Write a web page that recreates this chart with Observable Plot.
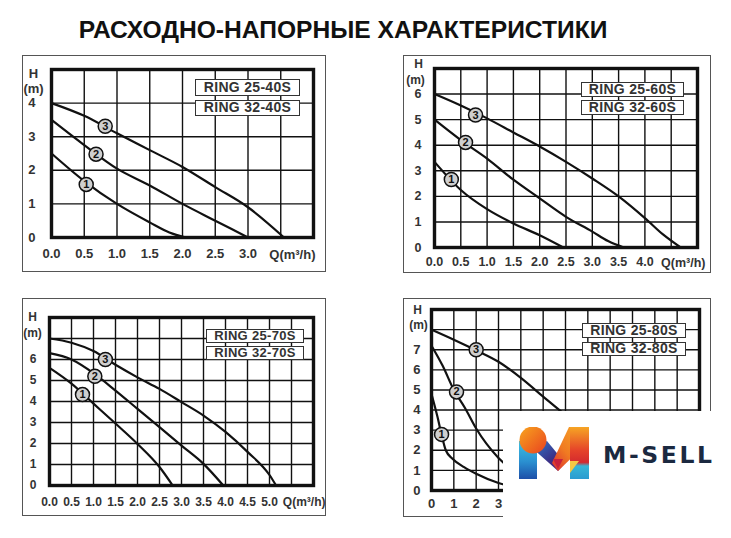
<!DOCTYPE html>
<html><head><meta charset="utf-8">
<script src="https://cdn.jsdelivr.net/npm/d3@7"></script>
<script src="https://cdn.jsdelivr.net/npm/@observablehq/plot@0.6"></script>
<style>
body{margin:0;background:#fff;}
#root{position:relative;width:731px;height:538px;overflow:hidden;background:#fff;font-family:"Liberation Sans",Arial,sans-serif;}
.outer{position:absolute;border:1.5px solid #555;box-sizing:border-box;}
.leg{position:absolute;box-sizing:border-box;border:1.5px solid #333;background:#fff;font-weight:bold;color:#333;text-align:center;white-space:nowrap;letter-spacing:0.3px;}
.chart{position:absolute;}
#title{position:absolute;left:0;width:686px;text-align:center;font-weight:bold;color:#111;white-space:nowrap;}
</style></head><body><div id="root"></div>
<script>
// ---------- DATA ----------
const title = "РАСХОДНО-НАПОРНЫЕ ХАРАКТЕРИСТИКИ";
const qLabel = "Q(m³/h)";
const hLabel = "H";
const mLabel = "(m)";
const brand = "M-SELL";

// Panel A: RING 25-40S / 32-40S
const modelsA = ["RING 25-40S", "RING 32-40S"];
const xTicksA = [0, 0.5, 1, 1.5, 2, 2.5, 3];
const yTicksA = [0, 1, 2, 3, 4];
const curveA1 = [[0,2.5],[0.5,1.68],[1,1.0],[1.5,0.45],[1.8,0.15],[2.05,0]];
const curveA2 = [[0,3.5],[0.5,2.75],[1,2.05],[1.5,1.55],[2,1.0],[2.5,0.5],[3,0]];
const curveA3 = [[0,4.0],[0.5,3.62],[1,3.1],[1.5,2.6],[2,2.1],[2.5,1.5],[3,0.9],[3.55,0]];
const badgesA = [[0.53,1.58],[0.68,2.48],[0.82,3.31]];

// Panel B: RING 25-60S / 32-60S
const modelsB = ["RING 25-60S", "RING 32-60S"];
const xTicksB = [0, 0.5, 1, 1.5, 2, 2.5, 3, 3.5, 4];
const yTicksB = [0, 1, 2, 3, 4, 5, 6];
const curveB1 = [[0,3.35],[0.5,2.25],[1,1.5],[1.5,0.94],[2,0.48],[2.45,0]];
const curveB2 = [[0,5],[0.5,4.2],[1,3.48],[1.5,2.65],[2,1.92],[2.5,1.2],[3,0.62],[3.3,0.25],[3.6,0]];
const curveB3 = [[0,6],[0.5,5.55],[1,5.05],[1.5,4.5],[2,3.95],[2.5,3.35],[3,2.7],[3.5,2.0],[4,1.15],[4.35,0.5],[4.68,0]];
const badgesB = [[0.32,2.66],[0.59,4.11],[0.78,5.18]];

// Panel C: RING 25-70S / 32-70S
const modelsC = ["RING 25-70S", "RING 32-70S"];
const xTicksC = [0, 0.5, 1, 1.5, 2, 2.5, 3, 3.5, 4, 4.5, 5];
const yTicksC = [0, 1, 2, 3, 4, 5, 6];
const curveC1 = [[0,5.6],[0.5,4.85],[1,3.9],[1.5,2.95],[2,1.98],[2.5,0.88],[2.8,0]];
const curveC2 = [[0,6.3],[0.5,6.0],[1,5.35],[1.5,4.52],[2,3.65],[2.5,2.78],[3,1.9],[3.5,1.03],[3.95,0]];
const curveC3 = [[0,7.0],[0.5,6.8],[1,6.4],[1.5,5.75],[2,5.15],[2.5,4.6],[3,3.97],[3.5,3.33],[4,2.55],[4.5,1.6],[5,0.5],[5.15,0]];
const badgesC = [[0.75,4.33],[1.03,5.2],[1.27,6.0]];

// Panel D: RING 25-80S / 32-80S
const modelsD = ["RING 25-80S", "RING 32-80S"];
const xTicksD = [0, 1, 2, 3, 4, 5, 6, 7, 8, 9, 10, 11];
const yTicksD = [0, 1, 2, 3, 4, 5, 6, 7];
const curveD1 = [[0,4.8],[0.27,3.65],[0.45,2.77],[0.64,2.0],[0.94,1.58],[1.46,1.16],[2,0.83],[3,0.37],[4,0.1]];
const curveD2 = [[0,7.2],[0.5,6.2],[1,5.0],[1.5,4.1],[2,3.08],[3,1.62],[4,0.75],[5,0.25]];
const curveD3 = [[0,8.0],[1,7.5],[2,6.97],[3,6.4],[4,5.6],[5,4.67],[6,3.75],[7,2.8]];
const badgesD = [[0.45,2.79],[1.12,4.9],[2.0,7.0]];

// ---------- LAYOUT ----------
const root = document.getElementById("root");

function range(a, b, s) { const r = []; for (let v = a; v <= b + 1e-9; v += s) r.push(+v.toFixed(3)); return r; }

function panel(o) {
  const lines = o.curves.flatMap((c, i) => c.map(([q, h]) => ({q, h, k: i + 1})));
  const badges = o.badges.map(([q, h], i) => ({q, h, n: String(i + 1)}));
  const fs = o.fs;
  const marks = [
    Plot.gridX({ticks: range(o.xDomain[0], o.xDomain[1], o.xStep), stroke: "#111", strokeOpacity: 1, strokeWidth: 1.4}),
    Plot.gridY({ticks: range(o.yDomain[0], o.yDomain[1], 1), stroke: "#111", strokeOpacity: 1, strokeWidth: 1.4}),
    Plot.line(lines, {x: "q", y: "h", z: "k", curve: "monotone-x", stroke: "#111", strokeWidth: 2.2}),
    Plot.frame({stroke: "#111", strokeWidth: 3.4}),
    Plot.dot(badges, {x: "q", y: "h", r: 7, fill: "#cfcfcf", stroke: "#111", strokeWidth: 1.5}),
    Plot.text(badges, {x: "q", y: "h", text: "n", fontSize: 11, fontWeight: "bold", fill: "#111"}),
    Plot.axisX({ticks: o.xTicks, tickSize: 0, tickPadding: o.xp, tickFormat: o.xFmt, fontSize: fs, label: null}),
    Plot.axisY({ticks: o.yTicks, tickSize: 0, tickPadding: o.yp, tickFormat: d => String(d), fontSize: fs, label: null}),
    Plot.text([hLabel], {text: d => d, frameAnchor: "top-left", textAnchor: "middle", lineAnchor: "middle", dx: o.hPos[0], dy: o.hPos[1], fontSize: o.hfs, fill: "#333"}),
    Plot.text([mLabel], {text: d => d, frameAnchor: "top-left", textAnchor: "middle", lineAnchor: "middle", dx: o.mPos[0], dy: o.mPos[1], fontSize: o.hfs, fill: "#333"})
  ];
  if (o.qPos) marks.push(Plot.text([qLabel], {text: d => d, frameAnchor: "bottom-right", textAnchor: "end", lineAnchor: "middle", dx: o.qPos[0], dy: o.qPos[1], fontSize: fs, fill: "#333"}));
  const chart = Plot.plot({
    width: o.w, height: o.h,
    marginLeft: o.ml, marginRight: o.mr, marginTop: o.mt, marginBottom: o.mb,
    x: {domain: o.xDomain}, y: {domain: o.yDomain},
    style: {fontFamily: "Liberation Sans, Arial, sans-serif", fontWeight: "bold", color: "#333", background: "transparent", overflow: "visible"},
    marks
  });
  const box = document.createElement("div");
  box.className = "outer";
  Object.assign(box.style, {left: o.left + "px", top: o.top + "px", width: o.w + "px", height: o.h + "px"});
  root.appendChild(box);
  chart.classList.add("chart");
  chart.style.left = o.left + "px"; chart.style.top = o.top + "px";
  root.appendChild(chart);
  o.models.forEach((m, i) => {
    const d = document.createElement("div");
    d.className = "leg";
    const b = o.leg[i];
    Object.assign(d.style, {left: b[0] + "px", top: b[1] + "px", width: b[2] + "px", height: b[3] + "px", fontSize: o.lfs + "px", lineHeight: (b[3] - 3) + "px"});
    d.textContent = m;
    root.appendChild(d);
  });
}

const fmt1 = d => d.toFixed(1);

panel({left: 22, top: 55, w: 304, h: 217, ml: 29, mt: 14, mr: 13, mb: 35,
  xDomain: [0, 4], yDomain: [0, 5], xStep: 0.5, xTicks: xTicksA, yTicks: yTicksA, xFmt: fmt1,
  curves: [curveA1, curveA2, curveA3], badges: badgesA, models: modelsA,
  fs: 13, hfs: 13, xp: 11, yp: 16, hPos: [-18, 4], mPos: [-18, 19], qPos: [2, 17],
  leg: [[195, 79, 105, 17], [195, 100, 105, 16]], lfs: 14});

panel({left: 403, top: 55, w: 308, h: 218, ml: 31, mt: 13, mr: 14, mb: 26,
  xDomain: [0, 5], yDomain: [0, 7], xStep: 0.5, xTicks: xTicksB, yTicks: yTicksB, xFmt: fmt1,
  curves: [curveB1, curveB2, curveB3], badges: badgesB, models: modelsB,
  fs: 12.5, hfs: 12, xp: 10, yp: 13, hPos: [-16, -4], mPos: [-19, 12], qPos: [8, 15],
  leg: [[581, 82, 103, 15], [581, 100, 103, 15]], lfs: 14});

panel({left: 22, top: 298, w: 304, h: 218, ml: 27, mt: 19, mr: 13, mb: 31,
  xDomain: [0, 6], yDomain: [0, 8], xStep: 0.5, xTicks: xTicksC, yTicks: yTicksC, xFmt: fmt1,
  curves: [curveC1, curveC2, curveC3], badges: badgesC, models: modelsC,
  fs: 12, hfs: 12, xp: 12, yp: 13, hPos: [-17, 0], mPos: [-17, 16], qPos: [12, 17],
  leg: [[206, 329, 98, 14], [206, 346, 98, 14]], lfs: 13});

panel({left: 403, top: 298, w: 308, h: 219, ml: 28, mt: 11, mr: 12, mb: 27,
  xDomain: [0, 12], yDomain: [0, 9], xStep: 1, xTicks: xTicksD, yTicks: yTicksD, xFmt: d => String(d),
  curves: [curveD1, curveD2, curveD3], badges: badgesD, models: modelsD,
  fs: 13, hfs: 12, xp: 8, yp: 11, hPos: [-14, 1], mPos: [-13, 16], qPos: null,
  leg: [[582, 323, 104, 15], [582, 342, 104, 14]], lfs: 14});

// Title
const t = document.createElement("div");
t.id = "title"; t.textContent = title;
Object.assign(t.style, {top: "17px", fontSize: "24.6px", lineHeight: "26px"});
root.appendChild(t);

// Brand overlay
const logo = document.createElement("div");
Object.assign(logo.style, {position: "absolute", left: "503px", top: "411px", width: "228px", height: "127px", background: "#fff"});
logo.innerHTML = `
<svg width="70" height="52" viewBox="0 0 70 52" style="position:absolute;left:16px;top:16px">
  <defs>
    <linearGradient id="gl" x1="0" y1="0" x2="0" y2="1"><stop offset="0" stop-color="#3cc0e2"/><stop offset="0.55" stop-color="#2a8fd0"/><stop offset="1" stop-color="#1d4fa8"/></linearGradient>
    <linearGradient id="go" x1="0" y1="0" x2="1" y2="1"><stop offset="0" stop-color="#f8a51e"/><stop offset="1" stop-color="#e9421f"/></linearGradient>
    <linearGradient id="gm" x1="0" y1="0" x2="1" y2="1"><stop offset="0" stop-color="#2f7fcf"/><stop offset="0.6" stop-color="#3b3188"/><stop offset="1" stop-color="#5a1e6e"/></linearGradient>
    <linearGradient id="ga" x1="1" y1="0" x2="0" y2="1"><stop offset="0" stop-color="#f9b02a"/><stop offset="0.6" stop-color="#f07a22"/><stop offset="1" stop-color="#d92a30"/></linearGradient>
    <linearGradient id="gr" x1="0" y1="0" x2="0" y2="1"><stop offset="0" stop-color="#f6a524"/><stop offset="0.45" stop-color="#e5432a"/><stop offset="0.68" stop-color="#d42a2e"/><stop offset="0.75" stop-color="#36b6d6"/><stop offset="1" stop-color="#2a9bd0"/></linearGradient>
  </defs>
  <rect x="0" y="14" width="18" height="38" fill="url(#gl)"/>
  <polygon points="12,20 28,14 46,36 39,44" fill="url(#gm)"/>
  <polygon points="50,0 70,0 70,14 39,44 33,36" fill="url(#ga)"/>
  <polygon points="34,32 44,32 39,42" fill="#c8213a"/>
  <rect x="51" y="0" width="19" height="52" fill="url(#gr)"/>
  <polygon points="51,34 60,34 51,46" fill="#f4c744"/>
  <circle cx="14" cy="13" r="13.5" fill="url(#go)"/>
</svg>
<div style="position:absolute;left:100px;top:29px;font-family:'DejaVu Sans',sans-serif;font-weight:bold;font-size:23.5px;line-height:30px;color:#1b2940;letter-spacing:2.6px">${brand}</div>`;
root.appendChild(logo);
</script></body></html>
